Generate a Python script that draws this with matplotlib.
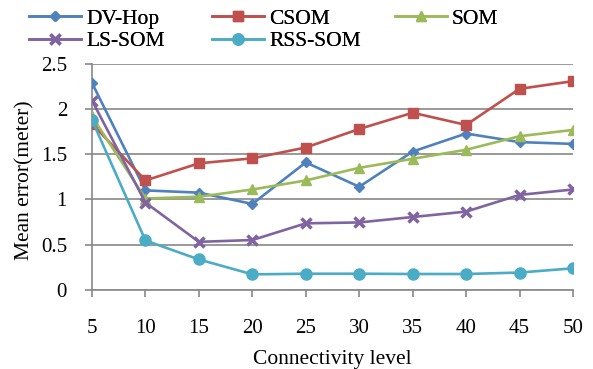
import matplotlib
matplotlib.use("Agg")
import matplotlib.pyplot as plt
from matplotlib.ticker import FuncFormatter

levels = [5, 10, 15, 20, 25, 30, 35, 40, 45, 50]
dv_hop = [2.29, 1.10, 1.075, 0.95, 1.41, 1.14, 1.53, 1.73, 1.635, 1.615]
csom = [1.84, 1.21, 1.40, 1.455, 1.575, 1.78, 1.96, 1.825, 2.225, 2.31]
som = [1.92, 1.01, 1.03, 1.11, 1.21, 1.35, 1.45, 1.55, 1.70, 1.77]
ls_som = [2.095, 0.965, 0.53, 0.55, 0.735, 0.745, 0.805, 0.865, 1.05, 1.11]
rss_som = [1.88, 0.545, 0.335, 0.17, 0.177, 0.177, 0.174, 0.174, 0.19, 0.237]

plt.rcParams['font.family'] = ['Liberation Serif', 'DejaVu Serif']

W, H = 593, 369
fig = plt.figure(figsize=(W/100, H/100), dpi=100)
ax = fig.add_axes([92/W, 1-289.7/H, (573-92)/W, (289.7-64)/H])

grid_c = '#888888'
lw = 1.9
l_dv, = ax.plot(levels, dv_hop, color='#4F81BD', marker='D', markersize=5.5, lw=lw, label='DV-Hop', zorder=3)
l_cs, = ax.plot(levels, csom, color='#C0504D', marker='s', markersize=7.5, lw=lw, label='CSOM', zorder=3)
l_so, = ax.plot(levels, som, color='#9BBB59', marker='^', markersize=7, lw=lw, label='SOM', zorder=3)
l_ls, = ax.plot(levels, ls_som, color='#8064A2', marker='x', markersize=7, mew=2.5, lw=lw, label='LS-SOM', zorder=3)
l_rs, = ax.plot(levels, rss_som, color='#4BACC6', marker='o', markersize=8, lw=lw, label='RSS-SOM', zorder=3)

ax.set_xlim(5, 50)
ax.set_ylim(0, 2.5)
ax.set_xticks(levels)
ax.set_yticks([0, 0.5, 1, 1.5, 2, 2.5])
ax.yaxis.set_major_formatter(FuncFormatter(lambda v, p: f"{v:g}"))
ax.grid(axis='y', color=grid_c, lw=1.2)
ax.set_axisbelow(True)
for s in ['top', 'right']:
    ax.spines[s].set_visible(False)
for s in ['left', 'bottom']:
    ax.spines[s].set_color(grid_c)
    ax.spines[s].set_linewidth(1.2)
ax.tick_params(axis='x', direction='out', length=5, width=1.2, color=grid_c, labelsize=15, pad=16)
ax.tick_params(axis='y', direction='out', length=5, width=1.2, color=grid_c, labelsize=15, pad=13)
ax.set_xlabel('Connectivity level', fontsize=15.5)
ax.xaxis.set_label_coords(0.5, (289.7-350)/225.7)
fig.text(25/W, 1-180/H, 'Mean error(meter)', rotation=90, ha='center', va='center', fontsize=15.5)

columns = [[l_dv, l_ls], [l_cs, l_rs], [l_so]]
xs = [29, 212, 395]
for hs, x0 in zip(columns, xs):
    leg = fig.legend(handles=hs, labels=[h.get_label() for h in hs], ncol=1,
                     loc='upper left', bbox_to_anchor=(x0/W, 1-8.5/H), frameon=False,
                     fontsize=15.5, handlelength=2.4, handletextpad=0.25,
                     labelspacing=0.12, borderpad=0, borderaxespad=0)
    fig.add_artist(leg)

fig.savefig('out.png', dpi=100)
